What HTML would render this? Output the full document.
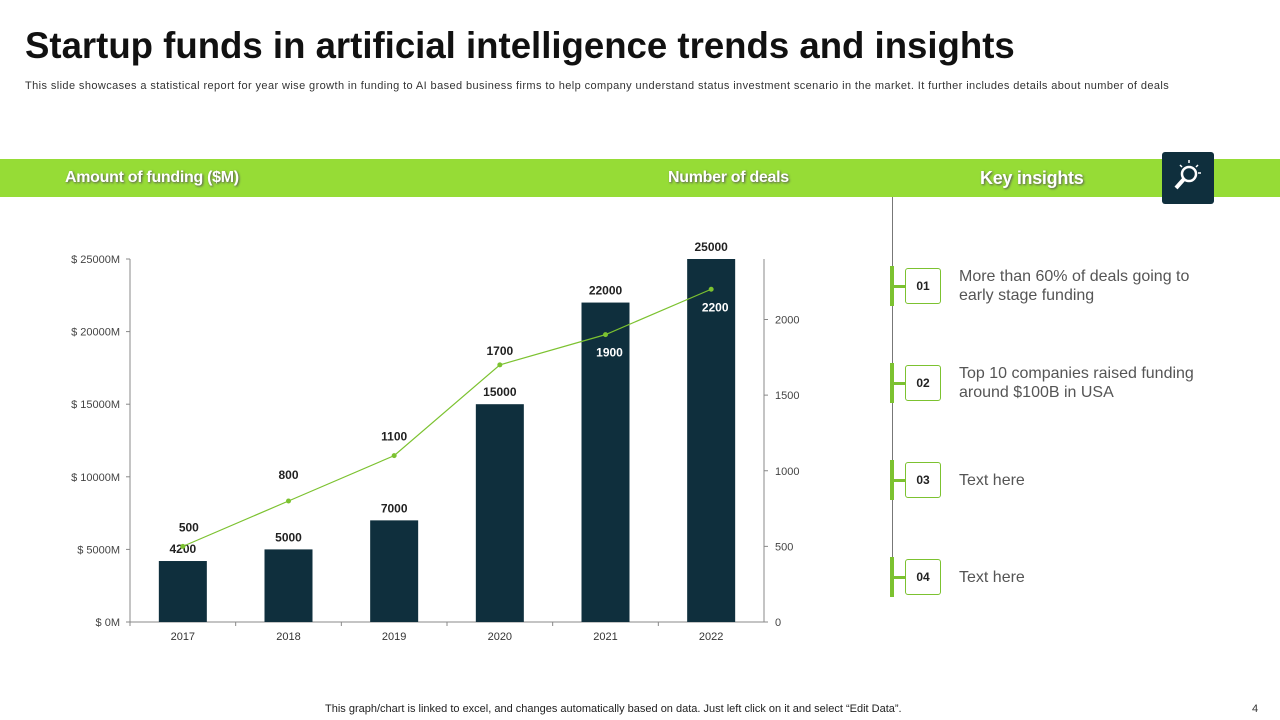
<!DOCTYPE html>
<html><head><meta charset="utf-8"><style>
body{margin:0;width:1280px;height:720px;background:#fff;font-family:"Liberation Sans",sans-serif;position:relative;overflow:hidden}
.abs{position:absolute}
</style></head><body>
<div class="abs" style="left:25px;top:25px;font-size:36.6px;font-weight:bold;color:#111">Startup funds in artificial intelligence trends and insights</div>
<div class="abs" style="left:25px;top:80px;font-size:11px;color:#333;letter-spacing:0.4px">This slide showcases a statistical report for year wise growth in funding to AI  based business firms to help company understand status investment scenario in the market. It further includes details about number of deals</div>
<div class="abs" style="left:0;top:159px;width:1280px;height:38px;background:#96dc36"></div>
<div class="abs" style="left:65px;top:169px;font-size:16px;font-weight:bold;color:#fff;text-shadow:1px 1px 2px #555;letter-spacing:-0.3px">Amount of funding ($M)</div>
<div class="abs" style="left:668px;top:169px;font-size:16px;font-weight:bold;color:#fff;text-shadow:1px 1px 2px #555;letter-spacing:-0.3px">Number of deals</div>
<div class="abs" style="left:980px;top:168px;font-size:18px;font-weight:bold;color:#fff;text-shadow:1px 1px 2px #555;letter-spacing:-0.3px">Key insights</div>
<div class="abs" style="left:1162px;top:152px;width:52px;height:52px;background:#0f2f3d;border-radius:3px">
<svg width="52" height="52"><circle cx="27" cy="22" r="7" fill="none" stroke="#fff" stroke-width="2.5"/><line x1="22" y1="27" x2="14" y2="36" stroke="#fff" stroke-width="4"/><g stroke="#fff" stroke-width="1.5"><line x1="27" y1="8" x2="27" y2="11"/><line x1="18" y1="13" x2="20" y2="15"/><line x1="36" y1="13" x2="34" y2="15"/><line x1="39" y1="21" x2="36" y2="21"/></g></svg></div>
<div class="abs" style="left:892px;top:197px;width:1px;height:400px;background:#777"></div>
<div id="ins"></div>
<svg class="abs" id="chart" style="left:0;top:0" width="880" height="700"></svg>
<div class="abs" style="left:325px;top:703px;font-size:11px;color:#222">This graph/chart is linked to excel,  and changes automatically based on data. Just left click on it and select “Edit Data”.</div>
<div class="abs" style="left:1252px;top:703px;font-size:11px;color:#333">4</div>
<script>
const categories=["2017","2018","2019","2020","2021","2022"];
const funding=[4200,5000,7000,15000,22000,25000];
const deals=[500,800,1100,1700,1900,2200];
const leftTicks=[0,5000,10000,15000,20000,25000];
const rightTicks=[0,500,1000,1500,2000];
const insights=[["01","More than 60% of deals going to early stage funding"],["02","Top 10 companies raised funding around $100B in USA"],["03","Text here"],["04","Text here"]];
const ns="http://www.w3.org/2000/svg";
const svg=document.getElementById('chart');
const X0=130,X1=764,Y0=622,YT=259;
const band=(X1-X0)/categories.length;
const xc=i=>X0+band*(i+0.5);
const yL=v=>Y0-(v/25000)*(Y0-YT);
const yR=v=>Y0-(v/2400)*(Y0-YT);
function el(t,a,txt){const e=document.createElementNS(ns,t);for(const k in a)e.setAttribute(k,a[k]);if(txt!==undefined)e.textContent=txt;svg.appendChild(e);return e;}
let e;
e=el('line',{x1:X0,y1:YT,x2:X0,y2:Y0,stroke:'#888'});


e=el('line',{x1:X0,y1:Y0,x2:X1,y2:Y0,stroke:'#888'});


e=el('line',{x1:X1,y1:YT,x2:X1,y2:Y0,stroke:'#888'});


leftTicks.forEach(v=>{el('line',{x1:X0-4,x2:X0,y1:yL(v),y2:yL(v),stroke:'#888'});
e=el('text',{x:X0-10,y:yL(v)+4,'text-anchor':'end','font-size':11,fill:'#444'},'$ '+v+'M');

});
rightTicks.forEach(v=>{el('line',{x1:X1,x2:X1+4,y1:yR(v),y2:yR(v),stroke:'#888'});
e=el('text',{x:X1+11,y:yR(v)+4,'font-size':11,fill:'#444'},String(v));

});
categories.forEach((c,i)=>{
el('line',{x1:X0+band*i,x2:X0+band*i,y1:Y0,y2:Y0+4,stroke:'#888'});
e=el('text',{x:xc(i),y:Y0+18,'text-anchor':'middle','font-size':11,fill:'#333'},c);


e=el('rect',{x:xc(i)-24,y:yL(funding[i]),width:48,height:Y0-yL(funding[i]),fill:'#0f2f3d'});


e=el('text',{x:xc(i),y:yL(funding[i])-8,'text-anchor':'middle','font-size':12,'font-weight':'bold',fill:'#222'},String(funding[i]));


});
e=el('polyline',{points:deals.map((d,i)=>xc(i)+','+yR(d)).join(' '),fill:'none',stroke:'#7cc230','stroke-width':1.2});


deals.forEach((d,i)=>{
e=el('circle',{cx:xc(i),cy:yR(d),r:2.5,fill:'#7cc230'});


const inside=yR(d)>yL(funding[i]);
e=el('text',{x:xc(i)+(i==0?6:0)+(inside?4:0),y:inside?yR(d)+22:yR(d)-10-(i==0?5:0)-(i==1?12:0)-(i==2?5:0),'text-anchor':'middle','font-size':12,'font-weight':'bold',fill:inside?'#fff':'#222'},String(d));


});
const ins=document.getElementById('ins');
insights.forEach((it,i)=>{
const top=266+i*97;
const d=document.createElement('div');
d.innerHTML=`<div class="abs" style="left:890px;top:${top}px;width:4px;height:40px;background:#7cc230"></div>
<div class="abs" style="left:893px;top:${top+19}px;width:13px;height:3px;background:#7cc230"></div>
<div class="abs" style="left:905px;top:${top+2}px;width:34px;height:34px;border:1px solid #7cc230;border-radius:3px;background:#fff;font-size:12px;font-weight:bold;color:#222;text-align:center;line-height:34px">${it[0]}</div>
<div class="abs" style="left:959px;top:${top+1}px;height:38px;width:240px;display:flex;align-items:center;font-size:16px;color:#555;line-height:19px"><div>${it[1]}</div></div>`;


ins.appendChild(d);
});
</script>
</body></html>
